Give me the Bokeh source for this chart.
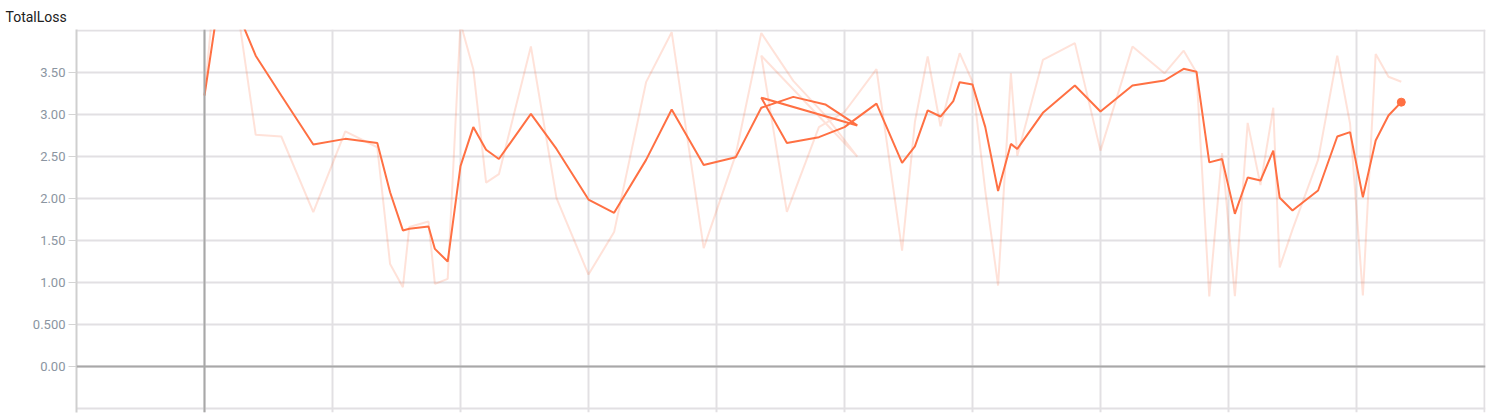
from bokeh.plotting import figure
from bokeh.models import Range1d, FixedTicker, Span
from bokeh.embed import file_html
from bokeh.resources import INLINE

# ---- data ----
steps = [0, 140, 400, 600, 850, 1100, 1350, 1450, 1550, 1600, 1750, 1800, 1900, 2000,
         2100, 2200, 2300, 2550, 2750, 3000, 3200, 3450, 3650, 3900, 4150, 4350, 4600,
         4850, 5100, 4350, 4550, 4800, 5000, 5250, 5450, 5550, 5650, 5750, 5850, 5900,
         6000, 6100, 6200, 6300, 6350, 6550, 6800, 7000, 7250, 7500, 7650, 7750, 7850,
         7950, 8050, 8150, 8250, 8350, 8400, 8500, 8700, 8850, 8950, 9050, 9150, 9250, 9350]

raw = [3.226, 5.5, 2.758, 2.738, 1.837, 2.80, 2.61, 1.22, 0.944, 1.66, 1.726, 0.984, 1.044, 4.09,
       3.54, 2.19, 2.29, 3.81, 2.004, 1.095, 1.60, 3.385, 3.98, 1.41, 2.52, 3.97, 3.40,
       2.99, 2.50, 3.70, 1.84, 2.85, 3.03, 3.54, 1.38, 2.91, 3.69, 2.86, 3.45, 3.73,
       3.39, 2.09, 0.964, 3.49, 2.51, 3.65, 3.85, 2.57, 3.81, 3.49, 3.76, 3.50, 0.833,
       2.54, 0.837, 2.90, 2.16, 3.08, 1.18, 1.63, 2.46, 3.70, 2.89, 0.845, 3.72, 3.45, 3.39]

smoothed = [3.226, 4.65, 3.70, 3.226, 2.643, 2.71, 2.66, 2.075, 1.62, 1.64, 1.667, 1.40, 1.25, 2.385,
            2.85, 2.58, 2.47, 3.008, 2.59, 1.988, 1.83, 2.46, 3.06, 2.40, 2.49, 3.08, 3.21,
            3.12, 2.87, 3.20, 2.66, 2.73, 2.85, 3.13, 2.425, 2.62, 3.05, 2.976, 3.16, 3.385,
            3.357, 2.85, 2.09, 2.65, 2.59, 3.02, 3.345, 3.036, 3.345, 3.405, 3.544, 3.51, 2.43,
            2.47, 1.817, 2.25, 2.214, 2.57, 2.008, 1.857, 2.095, 2.738, 2.79, 2.015, 2.69, 2.988, 3.147]

y_ticks = [0.0, 0.5, 1.0, 1.5, 2.0, 2.5, 3.0, 3.5]
y_labels = ["0.00", "0.500", "1.00", "1.50", "2.00", "2.50", "3.00", "3.50"]
y_grid = [-0.5, 0.0, 0.5, 1.0, 1.5, 2.0, 2.5, 3.0, 3.5, 4.0]
x_grid = [-1000, 0, 1000, 2000, 3000, 4000, 5000, 6000, 7000, 8000, 9000, 10000]

color = "#ff7043"

p = figure(width=1496, height=416, output_backend="svg", toolbar_location=None,
           x_range=Range1d(-1000, 10008), y_range=Range1d(-0.5476, 4.012),
           x_axis_location=None,
           min_border_left=76, min_border_right=11, min_border_top=29, min_border_bottom=4,
           background_fill_color="white", border_fill_color="white")

p.title.text = "TotalLoss"
p.title.text_font = "Roboto"
p.title.text_font_size = "14px"
p.title.text_font_style = "normal"
p.title.text_color = "#212121"
p.title.align = "left"
p.title.offset = -71
p.title.standoff = 10

p.outline_line_color = None

# y axis
p.yaxis.ticker = FixedTicker(ticks=y_ticks)
p.yaxis.major_label_overrides = {t: l for t, l in zip(y_ticks, y_labels)}
p.yaxis.major_label_text_font = "Roboto"
p.yaxis.major_label_text_font_size = "13px"
p.yaxis.major_label_text_color = "#8b95a1"
p.yaxis.axis_line_color = "#cfcfcf"
p.yaxis.axis_line_width = 2
p.yaxis.major_tick_line_color = "#d4d4d4"
p.yaxis.major_tick_line_width = 1
p.yaxis.major_tick_out = 8
p.yaxis.major_tick_in = 0
p.yaxis.minor_tick_line_color = None
p.yaxis.major_label_standoff = 3

# grids
p.xgrid.ticker = FixedTicker(ticks=x_grid)
p.xgrid.grid_line_color = "#e2e0e3"
p.xgrid.grid_line_width = 2
p.ygrid.ticker = FixedTicker(ticks=y_grid)
p.ygrid.grid_line_color = "#e2e0e3"
p.ygrid.grid_line_width = 2

# zero lines
p.add_layout(Span(location=0, dimension="width", line_color="#a8a8a8", line_width=2))
p.add_layout(Span(location=0, dimension="height", line_color="#a8a8a8", line_width=2))

# series
p.line(steps, raw, line_color=color, line_alpha=0.2, line_width=2)
p.line(steps, smoothed, line_color=color, line_width=2)
p.scatter(steps[-1:], smoothed[-1:], size=8, color=color)

open("out.html", "w").write(file_html(p, INLINE))
